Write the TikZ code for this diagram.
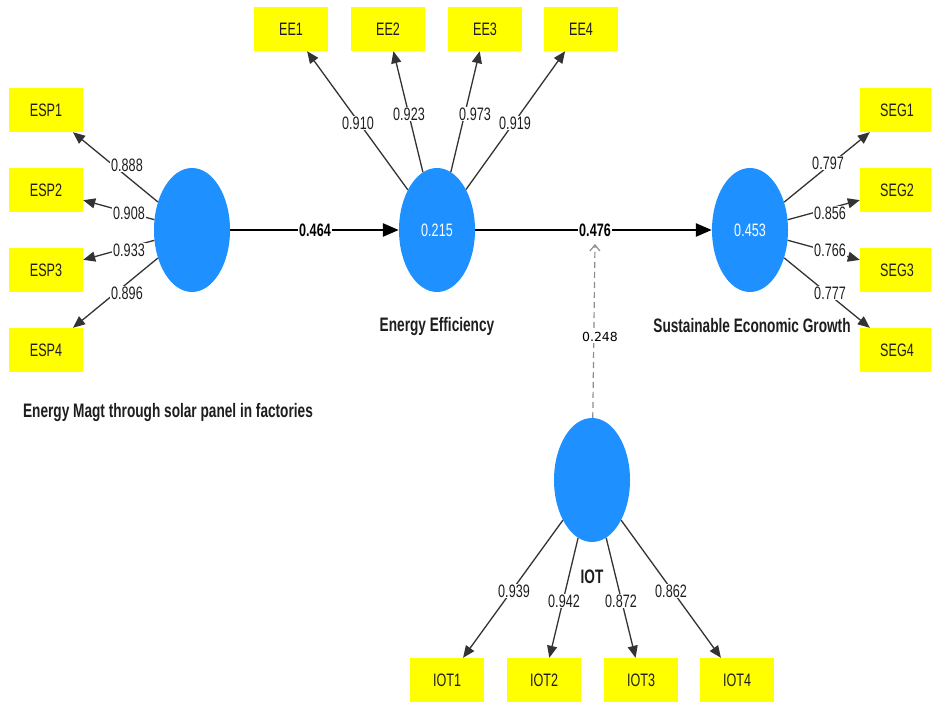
\documentclass[tikz,border=0pt]{standalone}
\usepackage{fontspec}
\setmainfont[FakeStretch=0.7]{Liberation Sans}
\newfontfamily\plainfont{DejaVu Sans}
\usetikzlibrary{arrows.meta,shapes.geometric}
\definecolor{boxyellow}{RGB}{255,255,0}
\definecolor{latblue}{RGB}{30,144,255}
\definecolor{dashgrey}{RGB}{140,140,140}
\definecolor{txtdark}{RGB}{30,30,30}
\begin{document}
\begin{tikzpicture}[x=1pt,y=-1pt,
 ind/.style={fill=boxyellow, minimum width=74pt, minimum height=44pt, inner sep=0pt, text=txtdark, font=\fontsize{18}{20}\selectfont},
 lat/.style={ellipse, fill=latblue, minimum width=76pt, minimum height=124pt, inner sep=0pt, text=white, font=\fontsize{18}{20}\selectfont},
 load/.style={draw=black!80, line width=1.3pt, -{Triangle[length=12pt,width=10pt]}},
 pathc/.style={draw=black, line width=2.5pt, -{Triangle[length=16pt,width=13pt]}},
 lbl/.style={fill=white, inner sep=1pt, text=txtdark, font=\fontsize{18}{20}\selectfont},
 plbl/.style={fill=white, inner sep=1pt, font=\bfseries\fontsize{18}{20}\selectfont},
 title/.style={text=txtdark, font=\bfseries\fontsize{19.5}{22}\selectfont}
]
\useasboundingbox[fill=white] (0,0) rectangle (931,703);

% latent variables
\node[lat] (esp) at (192,230) {};
\node[lat] (ee) at (437,230) {0.215};
\node[lat] (seg) at (750,230) {0.453};
\node[lat] (iot) at (592,480) {};

% indicators
\node[ind] (esp1) at (46,110) {ESP1};
\node[ind] (esp2) at (46,190) {ESP2};
\node[ind] (esp3) at (46,270) {ESP3};
\node[ind] (esp4) at (46,350) {ESP4};

\node[ind] (ee1) at (291,29) {EE1};
\node[ind] (ee2) at (388,29) {EE2};
\node[ind] (ee3) at (485,29) {EE3};
\node[ind] (ee4) at (581,29) {EE4};

\node[ind] (seg1) at (897,110) {SEG1};
\node[ind] (seg2) at (897,190) {SEG2};
\node[ind] (seg3) at (897,270) {SEG3};
\node[ind] (seg4) at (897,350) {SEG4};

\node[ind] (iot1) at (447,680) {IOT1};
\node[ind] (iot2) at (544,680) {IOT2};
\node[ind] (iot3) at (641,680) {IOT3};
\node[ind] (iot4) at (737,680) {IOT4};

% loadings
\foreach \i in {1,2,3,4} {
  \draw[load] (esp) -- (esp\i);
  \draw[load] (ee) -- (ee\i);
  \draw[load] (seg) -- (seg\i);
  \draw[load] (iot) -- (iot\i);
}

% structural paths
\draw[pathc] (esp) -- (ee);
\draw[pathc] (ee) -- (seg);
\coordinate (mtip) at (595,244);
\draw[dashgrey, dashed, line width=1.2pt, dash pattern=on 6pt off 4pt, -{Straight Barb[length=6pt,width=10pt]}] (iot) -- (mtip);

% loading labels
\node[lbl] (l1) at (127,165) {0.888};
\node[lbl] (l2) at (129,213) {0.908};
\node[lbl] (l3) at (129,250) {0.933};
\node[lbl] (l4) at (127,293) {0.896};

\node[lbl] (l5) at (358,123) {0.910};
\node[lbl] (l6) at (409,114) {0.923};
\node[lbl] (l7) at (475,114) {0.973};
\node[lbl] (l8) at (515,123) {0.919};

\node[lbl] (l9) at (828,163) {0.797};
\node[lbl] (l10) at (830,213) {0.856};
\node[lbl] (l11) at (830,250) {0.766};
\node[lbl] (l12) at (830,293) {0.777};

\node[lbl] (l13) at (514,591) {0.939};
\node[lbl] (l14) at (564,601) {0.942};
\node[lbl] (l15) at (621,601) {0.872};
\node[lbl] (l16) at (671,591) {0.862};

% path labels
\node[plbl] (p1) at (315,230) {0.464};
\node[plbl] (p2) at (595,230) {0.476};
\node[fill=white, inner sep=1pt, font=\plainfont\fontsize{12.5}{14}\selectfont] (p3) at (600,337) {0.248};

% titles
\node[title] (t1) at (168,412) {Energy Magt through solar panel in factories};
\node[title] (t2) at (437,327) {Energy Efficiency};
\node[title] (t3) at (752,326) {Sustainable Economic Growth};
\node[title] (t4) at (592,577) {IOT};
\end{tikzpicture}
\end{document}
